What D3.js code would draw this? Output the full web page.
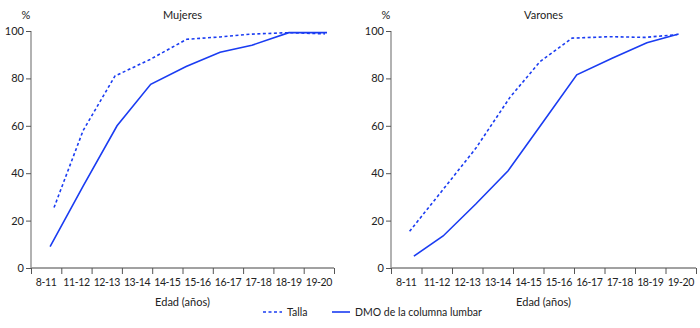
<!DOCTYPE html>
<html>
<head>
<meta charset="utf-8">
<script src="https://cdn.jsdelivr.net/npm/d3@7"></script>
<style>
  body { margin: 0; background: #fff; }
  svg { display: block; font-family: Lato, "Open Sans", sans-serif; }
</style>
</head>
<body>
<div id="chart"></div>
<script>
const categories = ["8-11", "11-12", "12-13", "13-14", "14-15", "15-16", "16-17", "17-18", "18-19", "19-20"];
const yTicks = [0, 20, 40, 60, 80, 100];

// x positions are given in category units (0 = left edge of "8-11", 10 = right edge of "19-20")
const mujeresTallaX = [0.76, 1.72, 2.77, 3.93, 5.14, 6.24, 7.29, 8.51, 9.70];
const mujeresTalla = [25.5, 58, 81, 88, 96.5, 97.5, 98.7, 99.3, 98.8];
const mujeresDmoX = [0.63, 1.72, 2.84, 3.95, 5.12, 6.24, 7.29, 8.51, 9.77];
const mujeresDmo = [9, 34.5, 60, 77.5, 85, 91, 94, 99.3, 99.3];

const varonesTallaX = [0.61, 1.70, 2.78, 3.90, 4.88, 5.94, 7.19, 8.34, 9.39];
const varonesTalla = [15.5, 33, 50.5, 72, 87, 97, 97.6, 97.3, 98.5];
const varonesDmoX = [0.75, 1.71, 2.78, 3.84, 4.98, 6.09, 7.25, 8.39, 9.43];
const varonesDmo = [5, 13.5, 27, 41, 61.5, 81.5, 88.5, 95, 98.7];

const panels = [
  { title: "Mujeres", x0: 31, x1: 334, talla: [mujeresTallaX, mujeresTalla], dmo: [mujeresDmoX, mujeresDmo] },
  { title: "Varones", x0: 391, x1: 696, talla: [varonesTallaX, varonesTalla], dmo: [varonesDmoX, varonesDmo] }
];

const width = 700, height = 328;
const plotTop = 31, plotBottom = 268;
const blue = "#1a3cf2";
const textColor = "#222";

const svg = d3.select("#chart").append("svg")
  .attr("width", width)
  .attr("height", height);

const y = d3.scaleLinear().domain([0, 100]).range([plotBottom, plotTop]);

panels.forEach(p => {
  const x = d3.scaleLinear().domain([0, 10]).range([p.x0, p.x1]);
  const band = d3.scaleBand().domain(categories).range([p.x0, p.x1]);
  const g = svg.append("g");

  // x axis: ticks at band edges
  g.append("g")
    .attr("transform", `translate(0,${plotBottom})`)
    .call(d3.axisBottom(x).tickValues(d3.range(0, 11)).tickSize(6).tickFormat(""))
    .call(g => g.select(".domain").attr("stroke", "#444").attr("d", `M${p.x0},0H${p.x1}`))
    .call(g => g.selectAll(".tick line").attr("stroke", "#555"));

  // x labels at band centers
  g.append("g")
    .attr("transform", `translate(0,${plotBottom})`)
    .call(d3.axisBottom(band).tickSize(0).tickPadding(11))
    .call(g => g.select(".domain").remove())
    .call(g => g.selectAll("text")
      .style("font-size", "10.5px")
      .style("letter-spacing", "-0.4px")
      .style("font-family", "Lato, sans-serif")
      .attr("fill", textColor));

  // y axis
  g.append("g")
    .attr("transform", `translate(${p.x0},0)`)
    .call(d3.axisLeft(y).tickValues(yTicks).tickSize(5).tickPadding(2))
    .call(g => g.select(".domain").attr("stroke", "#999").attr("stroke-width", 1.5).attr("d", `M0,${plotTop}V${plotBottom}`))
    .call(g => g.selectAll(".tick line").attr("stroke", "#555"))
    .call(g => g.selectAll("text").style("font-size", "11px").style("font-family", "Lato, sans-serif").attr("fill", textColor));

  g.append("text")
    .attr("x", p.x0 - 5)
    .attr("y", 19)
    .attr("text-anchor", "middle")
    .style("font-size", "11px")
    .attr("fill", textColor)
    .text("%");

  g.append("text")
    .attr("x", (p.x0 + p.x1) / 2)
    .attr("y", 19)
    .attr("text-anchor", "middle")
    .style("font-size", "11px")
    .attr("fill", textColor)
    .text(p.title);

  g.append("text")
    .attr("x", (p.x0 + p.x1) / 2)
    .attr("y", 306)
    .attr("text-anchor", "middle")
    .style("font-size", "11px")
    .attr("fill", textColor)
    .text("Edad (años)");

  const line = d3.line().x(d => x(d[0])).y(d => y(d[1]));
  const pts = s => s[0].map((v, i) => [v, s[1][i]]);

  g.append("path")
    .datum(pts(p.talla))
    .attr("d", line)
    .attr("fill", "none")
    .attr("stroke", blue)
    .attr("stroke-width", 1.6)
    .attr("stroke-dasharray", "3,2.5");

  g.append("path")
    .datum(pts(p.dmo))
    .attr("d", line)
    .attr("fill", "none")
    .attr("stroke", blue)
    .attr("stroke-width", 1.6);
});

// legend
const legend = svg.append("g").attr("transform", "translate(0,312)");
legend.append("line").attr("x1", 263).attr("x2", 282).attr("y1", 0).attr("y2", 0)
  .attr("stroke", blue).attr("stroke-width", 1.6).attr("stroke-dasharray", "3,2.5");
legend.append("text").attr("x", 287).attr("y", 4).style("font-size", "10.5px").attr("fill", textColor).text("Talla");
legend.append("line").attr("x1", 332).attr("x2", 350).attr("y1", 0).attr("y2", 0)
  .attr("stroke", blue).attr("stroke-width", 1.6);
legend.append("text").attr("x", 355).attr("y", 4).style("font-size", "10.5px").attr("fill", textColor).text("DMO de la columna lumbar");
</script>
</body>
</html>
